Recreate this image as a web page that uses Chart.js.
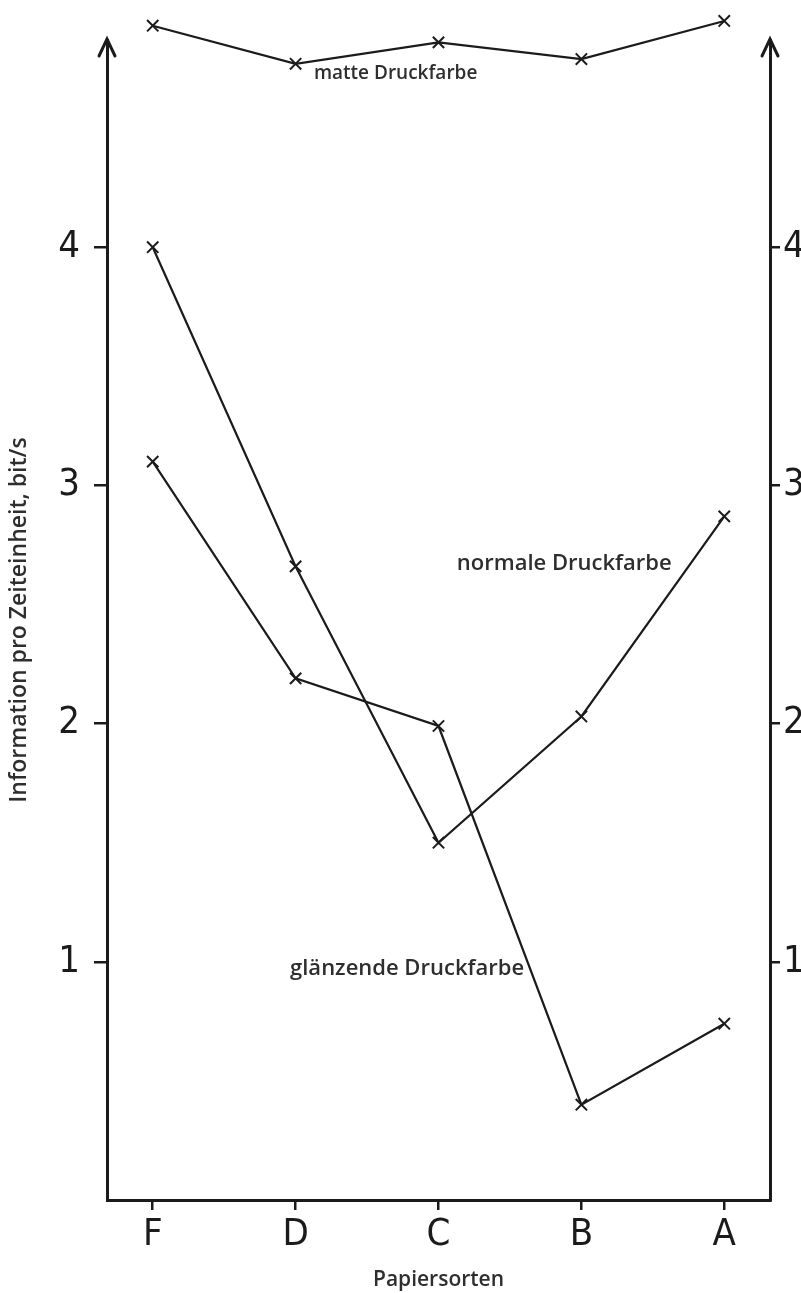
<!DOCTYPE html>
<html>
<head>
<meta charset="utf-8">
<script src="https://cdn.jsdelivr.net/npm/chart.js@4.4.1/dist/chart.umd.min.js"></script>
<style>
  html, body { margin: 0; padding: 0; background: #ffffff; }
  #wrap { width: 801px; height: 1293px; }
</style>
</head>
<body>
<div id="wrap"><canvas id="c" width="801" height="1293"></canvas></div>
<script>
// ---- data ----
const categories = ["F", "D", "C", "B", "A"];
const matteValues = [4.93, 4.77, 4.86, 4.79, 4.95];
const normalValues = [4.0, 2.66, 1.5, 2.03, 2.87];
const glossyValues = [3.1, 2.19, 1.99, 0.4, 0.74];
const yTickValues = [1, 2, 3, 4];
const seriesNames = ["matte Druckfarbe", "normale Druckfarbe", "glänzende Druckfarbe"];
const yTitle = "Information pro Zeiteinheit, bit/s";
const xTitle = "Papiersorten";

const INK = "#1b1b1b";
const TEXT = "#2e2e2e";
const toPoints = arr => arr.map((v, i) => ({ x: i, y: v }));

// label anchors (in data coordinates) for the in-chart series names
const labelAnchors = [
  { text: seriesNames[0], x: 1.70, y: 4.73, size: 19 },
  { text: seriesNames[1], x: 2.88, y: 2.67, size: 22 },
  { text: seriesNames[2], x: 1.78, y: 0.97, size: 22 }
];

const ds = (name, values) => ({
  label: name,
  data: toPoints(values),
  borderColor: INK,
  backgroundColor: INK,
  borderWidth: 2.2,
  tension: 0,
  pointStyle: "crossRot",
  pointRadius: 8,
  pointHoverRadius: 24,
  pointBorderWidth: 2,
  pointBorderColor: INK,
  clip: false
});

const decor = {
  id: "decor",
  afterDraw(chart) {
    const ctx = chart.ctx;
    const a = chart.chartArea;
    const xs = chart.scales.x, ys = chart.scales.y;
    ctx.save();
    ctx.strokeStyle = INK;
    ctx.lineWidth = 3;
    ctx.lineCap = "round";
    [a.left, a.right].forEach(x => {
      ctx.beginPath();
      ctx.moveTo(x - 8, a.top + 16);
      ctx.lineTo(x, a.top - 1);
      ctx.lineTo(x + 8, a.top + 16);
      ctx.stroke();
    });
    ctx.fillStyle = TEXT;
    ctx.textAlign = "center";
    ctx.textBaseline = "middle";
    labelAnchors.forEach(l => {
      ctx.font = "600 " + l.size + "px 'Open Sans', sans-serif";
      ctx.fillText(l.text, xs.getPixelForValue(l.x), ys.getPixelForValue(l.y));
    });
    ctx.restore();
  }
};

const tickFont = { family: "'DejaVu Sans Condensed', sans-serif", size: 38, weight: "normal" };
const titleFont = { family: "'Open Sans', sans-serif", size: 21, weight: "600" };

new Chart(document.getElementById("c"), {
  type: "line",
  data: {
    datasets: [
      ds(seriesNames[0], matteValues),
      ds(seriesNames[1], normalValues),
      ds(seriesNames[2], glossyValues)
    ]
  },
  options: {
    responsive: false,
    devicePixelRatio: 1,
    animation: false,
    events: [],
    layout: { padding: { top: 40, left: 0, right: 0, bottom: 0 } },
    plugins: { legend: { display: false }, tooltip: { enabled: false } },
    scales: {
      x: {
        type: "linear",
        min: -0.32,
        max: 4.32,
        afterBuildTicks: s => { s.ticks = categories.map((c, i) => ({ value: i })); },
        afterFit: s => { s.height = 93; },
        ticks: {
          callback: v => categories[v],
          color: INK,
          font: tickFont,
          padding: 2,
          maxRotation: 0,
          autoSkip: false
        },
        grid: { display: true, drawOnChartArea: false, drawTicks: true, tickLength: 10, color: INK, lineWidth: 2.5 },
        border: { display: true, color: INK, width: 3 },
        title: { display: true, text: xTitle, color: TEXT, font: titleFont, padding: { top: 0, bottom: 0 } }
      },
      y: {
        type: "linear",
        position: "left",
        min: 0,
        max: 4.87,
        afterBuildTicks: s => { s.ticks = yTickValues.map(v => ({ value: v })); },
        afterFit: s => { s.width = 107; },
        ticks: { color: INK, font: tickFont, padding: 14 },
        grid: { display: true, drawOnChartArea: false, drawTicks: true, tickLength: 13, color: INK, lineWidth: 2.5 },
        border: { display: true, color: INK, width: 3 },
        title: { display: true, text: yTitle, color: TEXT, font: { family: "'Open Sans', sans-serif", size: 23, weight: "600" }, padding: { top: 6, bottom: 0 } }
      },
      y2: {
        type: "linear",
        position: "right",
        min: 0,
        max: 4.87,
        afterBuildTicks: s => { s.ticks = yTickValues.map(v => ({ value: v })); },
        afterFit: s => { s.width = 31; },
        ticks: { color: INK, font: tickFont, padding: 3 },
        grid: { display: true, drawOnChartArea: false, drawTicks: true, tickLength: 10, color: INK, lineWidth: 2.5 },
        border: { display: true, color: INK, width: 3 }
      }
    }
  },
  plugins: [decor]
});
</script>
</body>
</html>
